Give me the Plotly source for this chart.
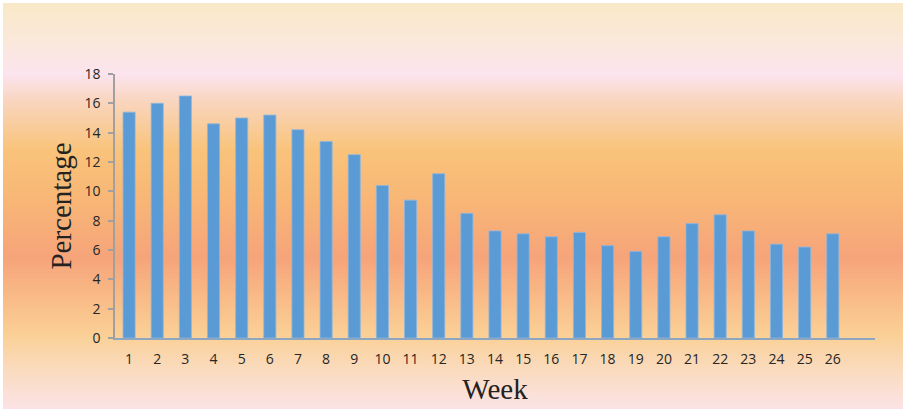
import plotly.graph_objects as go

weeks = list(range(1, 27))
percentages = [15.4, 16.0, 16.5, 14.6, 15.0, 15.2, 14.2, 13.4, 12.5, 10.4,
               9.4, 11.2, 8.5, 7.3, 7.1, 6.9, 7.2, 6.3, 5.9, 6.9,
               7.8, 8.4, 7.3, 6.4, 6.2, 7.1]
y_ticks = list(range(0, 19, 2))

W, H = 904, 411
L, R, T, B = 115, 875, 74, 338

# background gradient stops (pixel row, colour)
stops = [(3, (249, 233, 200)), (40, (250, 232, 218)), (75, (251, 228, 238)),
         (100, (249, 214, 192)), (150, (249, 195, 122)), (200, (248, 182, 118)),
         (258, (246, 164, 122)), (300, (249, 188, 136)), (335, (250, 208, 150)),
         (370, (250, 219, 190)), (409, (251, 227, 230))]

def col_at(py):
    for (y0, c0), (y1, c1) in zip(stops, stops[1:]):
        if y0 <= py <= y1:
            t = (py - y0) / (y1 - y0)
            return "rgb(%d,%d,%d)" % tuple(round(a + (b - a) * t) for a, b in zip(c0, c1))
    return "rgb(%d,%d,%d)" % stops[-1][1]

def px2x(px):
    return (px - L) / (R - L)

def py2y(py):
    return (B - py) / (B - T)

shapes = []
step = 2
py = 3
while py < 409:
    shapes.append(dict(type="rect", xref="paper", yref="paper",
                       x0=px2x(3), x1=px2x(903), y0=py2y(min(py + step + 0.5, 409)), y1=py2y(py),
                       fillcolor=col_at(py + step / 2), line=dict(width=0), layer="below"))
    py += step

fig = go.Figure(go.Bar(
    x=weeks, y=percentages, width=0.43,
    marker=dict(color="#5B9BD5", line=dict(color="#8DB6E0", width=0.8)),
))

fig.update_layout(
    width=W, height=H,
    margin=dict(l=L, r=W - R, t=T, b=H - B),
    paper_bgcolor="white", plot_bgcolor="rgba(0,0,0,0)",
    shapes=shapes, showlegend=False,
    font=dict(family="Open Sans, Calibri, sans-serif", size=14, color="#262626"),
)
fig.update_xaxes(
    range=[0.5, 27.5], tickmode="array", tickvals=weeks, ticktext=[str(w) for w in weeks],
    showgrid=False, zeroline=False, showline=True, linecolor="#8FA6C0", linewidth=1.5,
    ticks="", tickfont=dict(size=14, color="#262626"), ticklabelstandoff=7,
    title=dict(text="Week", font=dict(family="Liberation Serif, serif", size=29, color="#222222"), standoff=12),
)
fig.update_yaxes(
    range=[0, 18], tickmode="array", tickvals=y_ticks,
    showgrid=False, zeroline=False, showline=True, linecolor="#A0A0A0", linewidth=1.5,
    ticks="outside", ticklen=5, tickcolor="#A0A0A0", tickwidth=1.5,
    tickfont=dict(size=14, color="#262626"), ticklabelstandoff=5,
    title=dict(text="Percentage", font=dict(family="Liberation Serif, serif", size=29, color="#222222"), standoff=4),
)

fig.write_html("out.html", config={"displayModeBar": False},
               post_script="document.body.style.margin='0';")
